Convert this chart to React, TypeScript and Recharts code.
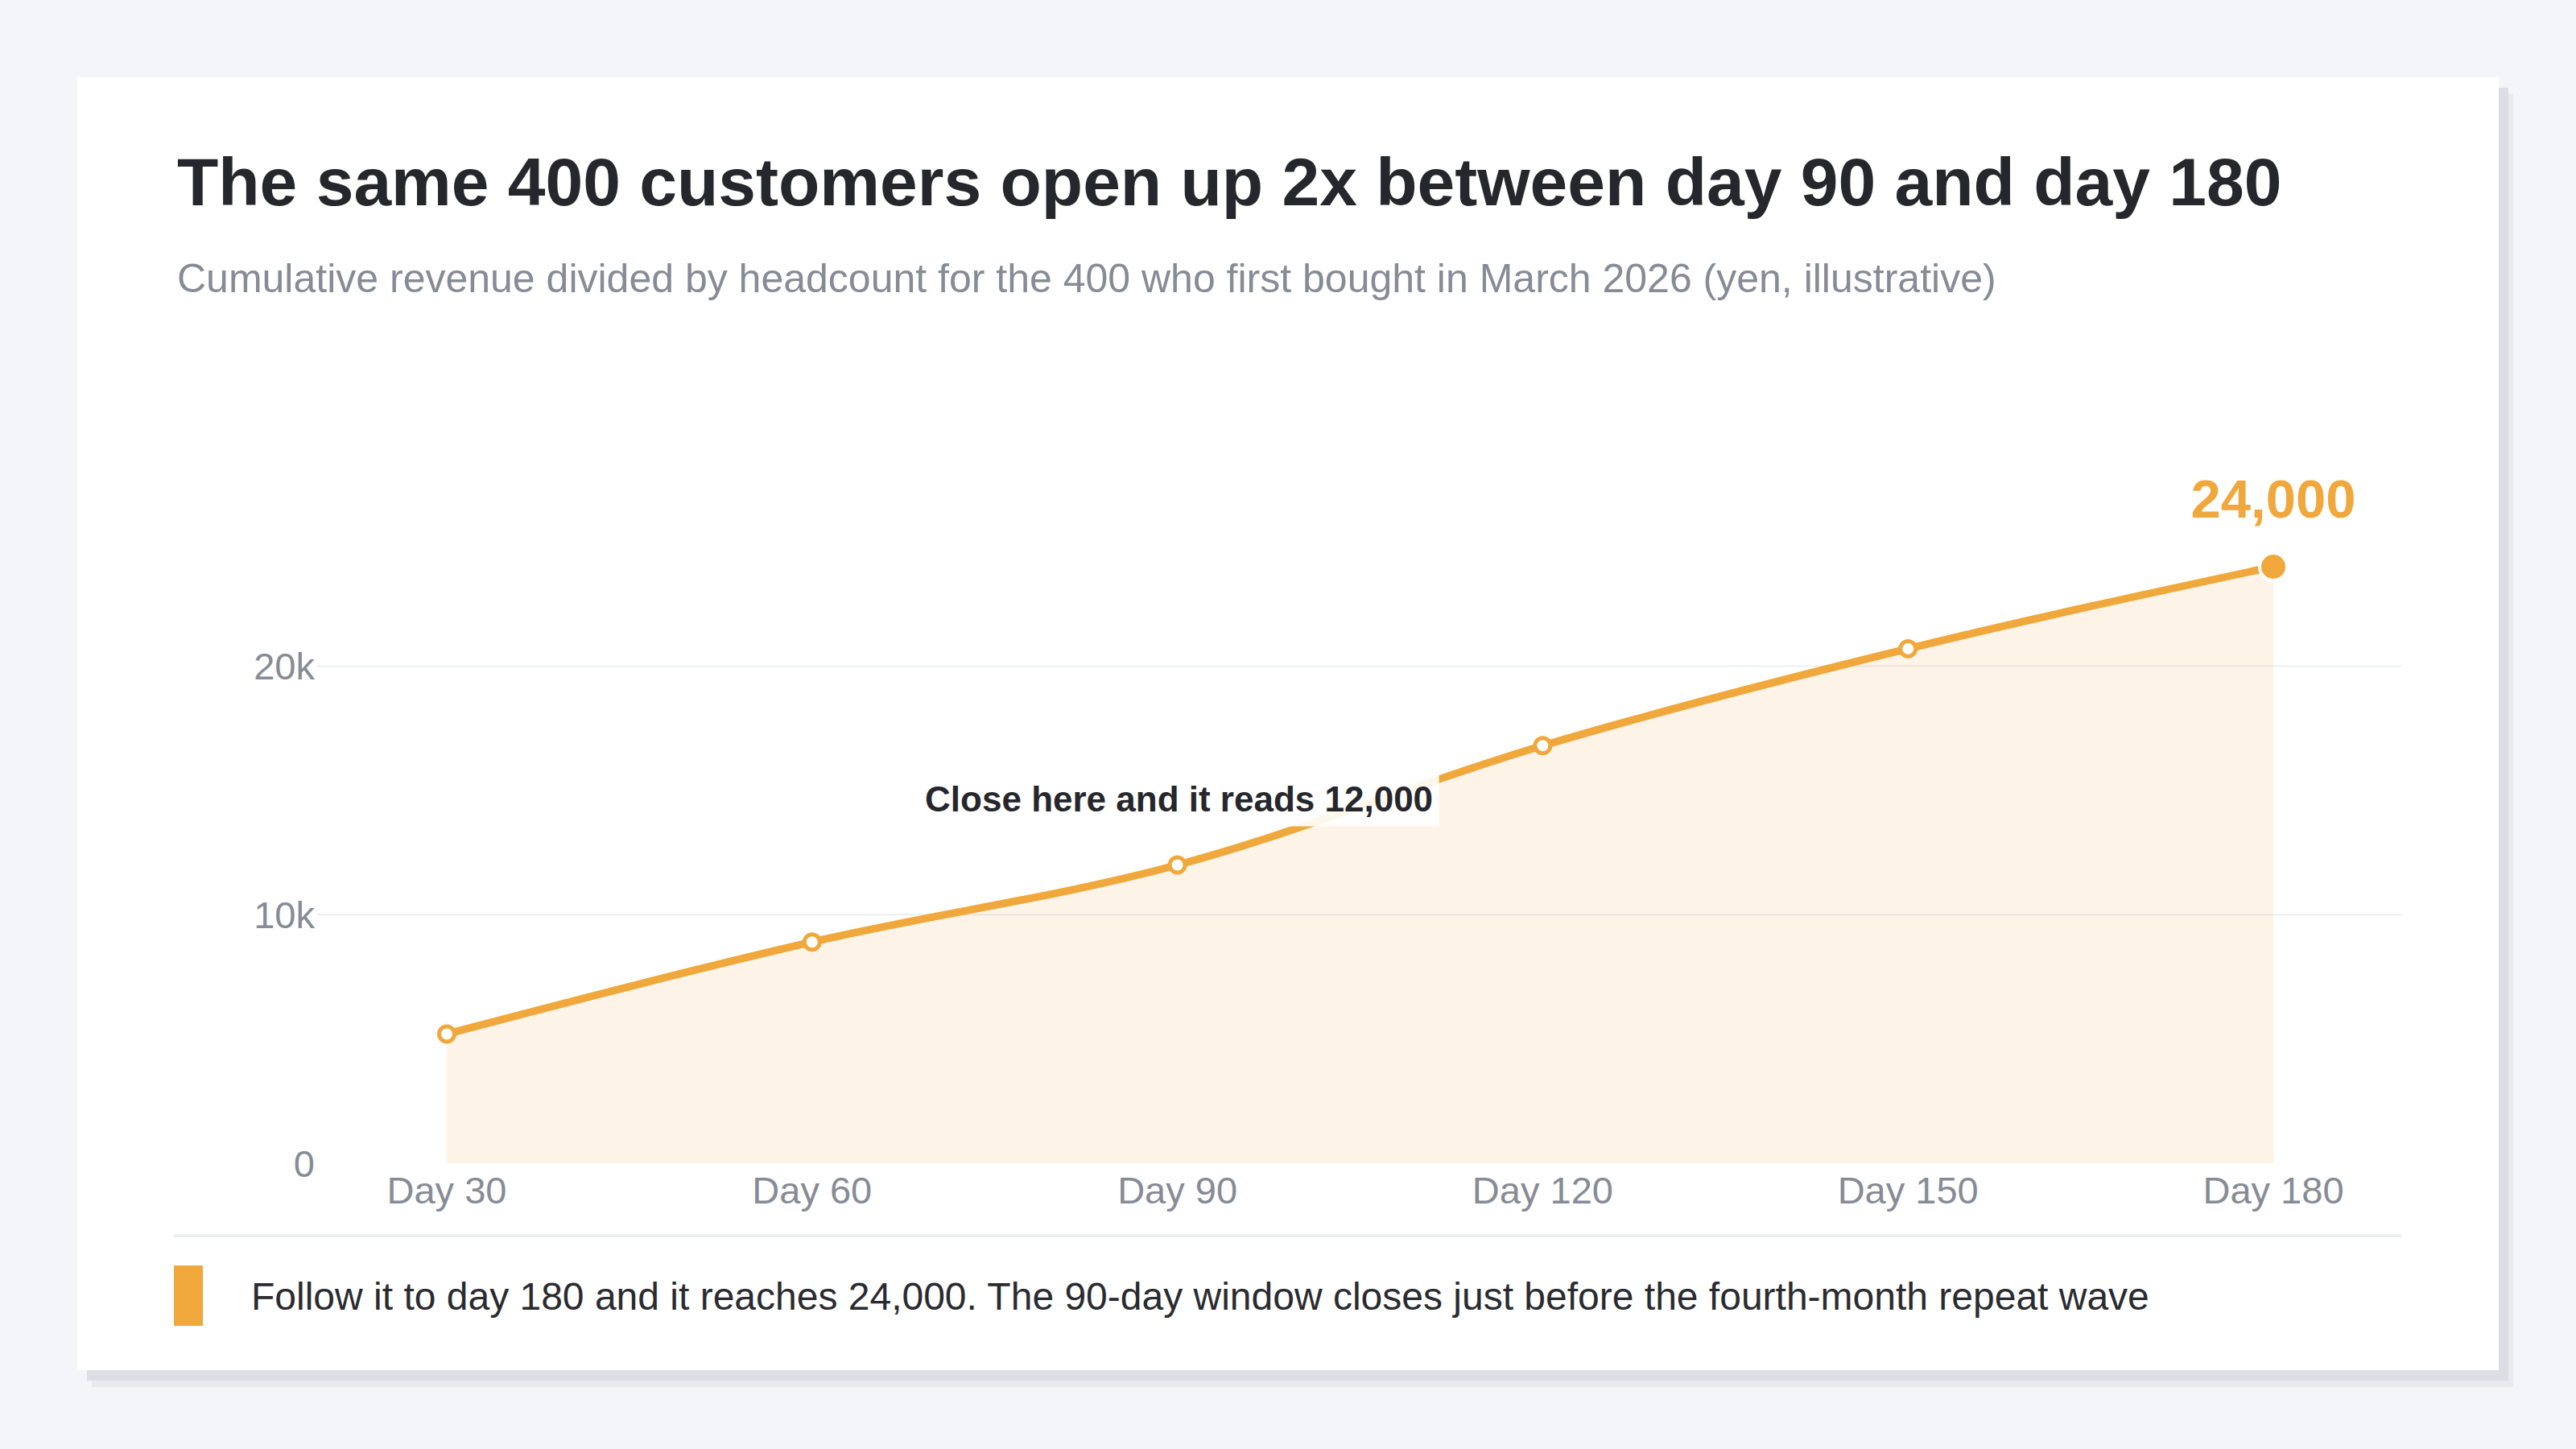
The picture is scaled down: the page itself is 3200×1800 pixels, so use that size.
import { Area, AreaChart, CartesianGrid, LabelList, XAxis, YAxis } from "recharts";

const DAYS = ["Day 30", "Day 60", "Day 90", "Day 120", "Day 150", "Day 180"];
const REVENUE = [5200, 8900, 12000, 16800, 20700, 24000];
const Y_TICKS = [0, 10000, 20000];
const NOTE_INDEX = 2;
const NOTE_TEXT = "Close here and it reads 12,000";
const END_TEXT = "24,000";

const DATA = DAYS.map((d, i) => ({ d, v: REVENUE[i] }));

const FONT = '"Liberation Sans", Arial, Helvetica, sans-serif';
const ORANGE = "#f0a83c";
const GRAY = "#868b96";
const INK = "#26272c";
const TICK = { fill: GRAY, fontSize: 47, fontFamily: FONT };

function Dot(props: any) {
  const { cx, cy, index } = props;
  if (cx == null || cy == null) return null;
  if (index === DATA.length - 1) {
    return <circle key={`dot-${index}`} cx={cx} cy={cy} r={17} fill={ORANGE} stroke="#fff" strokeWidth={4} />;
  }
  return <circle key={`dot-${index}`} cx={cx} cy={cy} r={9.5} fill="#fff" stroke={ORANGE} strokeWidth={5} />;
}

function PointLabel(props: any) {
  const { x, y, index } = props;
  if (x == null || y == null) return null;
  if (index === NOTE_INDEX) {
    return (
      <g>
        <rect x={x - 325} y={y - 112} width={650} height={64} fill="#fff" fillOpacity={0.9} />
        <text
          x={x + 2}
          y={y - 67}
          textAnchor="middle"
          fontFamily={FONT}
          fontSize={44}
          fontWeight={700}
          fill={INK}
        >
          {NOTE_TEXT}
        </text>
      </g>
    );
  }
  if (index === DATA.length - 1) {
    return (
      <text
        x={x}
        y={y - 61}
        textAnchor="middle"
        fontFamily={FONT}
        fontSize={67}
        fontWeight={700}
        fill={ORANGE}
      >
        {END_TEXT}
      </text>
    );
  }
  return null;
}

export default function App() {
  return (
    <div
      style={{
        position: "relative",
        width: 3200,
        height: 1800,
        background: "#f4f5f8",
        fontFamily: FONT,
        overflow: "hidden",
      }}
    >
      <style>{"body{margin:0}"}</style>
      <div
        style={{
          position: "absolute",
          left: 96,
          top: 96,
          width: 3008,
          height: 1606,
          background: "#fff",
          boxShadow: "12px 13px 0 #dcdee4, 18px 21px 0 #e9eaee",
        }}
      >
        <div
          style={{
            position: "absolute",
            left: 124,
            top: 88,
            fontSize: 84,
            lineHeight: 1,
            fontWeight: 700,
            color: INK,
            whiteSpace: "nowrap",
          }}
        >
          The same 400 customers open up 2x between day 90 and day 180
        </div>
        <div
          style={{
            position: "absolute",
            left: 124,
            top: 225,
            fontSize: 50,
            lineHeight: 1,
            color: GRAY,
            whiteSpace: "nowrap",
          }}
        >
          Cumulative revenue divided by headcount for the 400 who first bought in March 2026 (yen, illustrative)
        </div>

        <div style={{ position: "absolute", left: 120, top: 464 }}>
          <AreaChart
            width={2767}
            height={965}
            data={DATA}
            margin={{ top: 144, right: 0, bottom: 0, left: 0 }}
          >
            <CartesianGrid
              vertical={false}
              stroke="#eceef1"
              strokeWidth={2}
              horizontalValues={[10000, 20000]}
            />
            <XAxis
              dataKey="d"
              axisLine={false}
              tickLine={false}
              tickSize={0}
              tickMargin={17}
              height={80}
              tick={TICK}
              padding={{ left: 161, right: 159 }}
              interval={0}
            />
            <YAxis
              width={178}
              domain={[0, 24000]}
              ticks={Y_TICKS}
              axisLine={false}
              tickLine={false}
              tickSize={0}
              tickMargin={3}
              tick={TICK}
              tickFormatter={(v: number) => (v === 0 ? "0" : `${v / 1000}k`)}
            />
            <Area
              type="monotone"
              dataKey="v"
              stroke={ORANGE}
              strokeWidth={9.5}
              fill={ORANGE}
              fillOpacity={0.12}
              dot={Dot}
              activeDot={false}
              isAnimationActive={false}
            >
              <LabelList dataKey="v" content={PointLabel} />
            </Area>
          </AreaChart>
        </div>

        <div
          style={{
            position: "absolute",
            left: 120,
            top: 1437,
            width: 2767,
            height: 4,
            background: "#eceef2",
          }}
        />
        <div
          style={{
            position: "absolute",
            left: 120,
            top: 1476,
            width: 36,
            height: 75,
            background: ORANGE,
          }}
        />
        <div
          style={{
            position: "absolute",
            left: 216,
            top: 1491,
            fontSize: 48,
            lineHeight: 1,
            color: "#2a2b30",
            whiteSpace: "nowrap",
          }}
        >
          Follow it to day 180 and it reaches 24,000. The 90-day window closes just before the fourth-month repeat wave
        </div>
      </div>
    </div>
  );
}
